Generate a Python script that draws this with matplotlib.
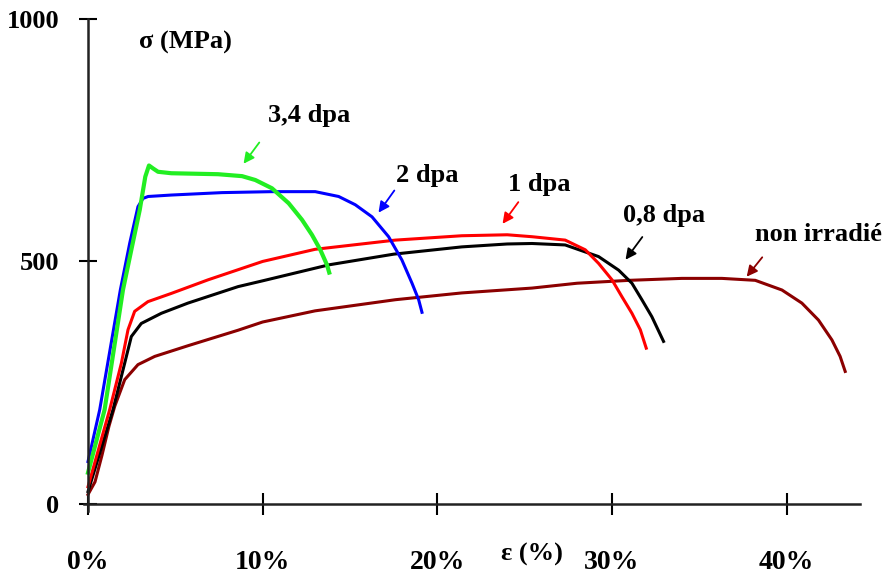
import matplotlib
matplotlib.use("Agg")
import matplotlib.pyplot as plt

# strain (%) / stress (MPa)
eps_34 = [0.0, 0.95, 2.0, 2.48, 2.96, 3.28, 3.49, 3.72, 4.01, 4.77, 7.44, 8.82, 9.58, 10.53, 11.49, 12.25, 12.82, 13.3, 13.68, 13.81]
sig_34 = [64, 194, 441, 524, 606, 675, 698, 692, 685, 682, 680, 676, 668, 651, 620, 586, 555, 524, 493, 477]

eps_2 = [0.0, 0.67, 1.85, 2.39, 2.86, 3.15, 3.44, 4.77, 7.67, 10.53, 13.01, 14.35, 15.3, 16.26, 17.21, 17.97, 18.55, 18.93, 19.12]
sig_2 = [87, 194, 441, 538, 613, 630, 634, 637, 642, 644, 644, 634, 617, 592, 551, 503, 455, 421, 395]

eps_1 = [0.0, 1.24, 1.91, 2.29, 2.67, 3.43, 4.77, 6.87, 10.0, 13.0, 17.6, 21.4, 24.0, 25.42, 27.32, 28.47, 29.23, 30.0, 30.57, 31.14, 31.62, 31.96]
sig_1 = [35, 194, 290, 359, 397, 417, 434, 462, 500, 525, 544, 553, 555, 551, 544, 524, 496, 462, 427, 393, 359, 321]

eps_08 = [0.0, 1.43, 2.1, 2.48, 3.05, 4.2, 5.72, 8.59, 10.0, 13.8, 17.5, 21.4, 24.0, 25.42, 27.32, 29.23, 30.38, 31.14, 31.71, 32.28, 32.95]
sig_08 = [25, 194, 290, 345, 372, 393, 414, 448, 460, 493, 515, 530, 536, 537, 534, 510, 482, 455, 421, 386, 335]

eps_0 = [0.0, 0.4, 0.8, 1.2, 1.53, 2.1, 2.86, 3.82, 5.72, 8.59, 10.0, 13.0, 17.6, 21.4, 25.42, 28.0, 31.0, 34.0, 36.29, 38.2, 39.73, 40.87, 41.82, 42.59, 43.06, 43.35]
sig_0 = [19, 45, 100, 160, 201, 256, 287, 304, 326, 358, 375, 398, 421, 435, 445, 455, 461, 465, 465, 461, 441, 414, 379, 338, 304, 273]

x_ticks = [0, 10, 20, 30, 40]
x_labels = ["0%", "10%", "20%", "30%", "40%"]
y_ticks = [0, 500, 1000]

plt.rcParams["font.family"] = ["Liberation Serif", "DejaVu Serif"]
plt.rcParams["font.weight"] = "bold"

fig = plt.figure(figsize=(8.87, 5.80), dpi=100)
ax = fig.add_axes([0.0943, 0.119, 0.8753, 0.848])

ax.plot(eps_0, sig_0, color="#8b0000", lw=2.2, solid_joinstyle="round")
ax.plot(eps_08, sig_08, color="black", lw=2.2, solid_joinstyle="round")
ax.plot(eps_1, sig_1, color="#ff0000", lw=2.2, solid_joinstyle="round")
ax.plot(eps_2, sig_2, color="#0000ff", lw=2.2, solid_joinstyle="round")
ax.plot(eps_34, sig_34, color="#22ee22", lw=3.0, solid_joinstyle="round")

ax.set_xlim(-0.25, 44.2)
ax.set_ylim(-15, 1000)

for s in ["top", "right"]:
    ax.spines[s].set_visible(False)
for s in ["left", "bottom"]:
    ax.spines[s].set_position(("data", 0))
    ax.spines[s].set_linewidth(1.8)
    ax.spines[s].set_color("#222222")

ax.set_xticks(x_ticks)
ax.set_xticklabels(x_labels)
ax.set_yticks(y_ticks)
ax.tick_params(axis="x", direction="inout", length=16, width=1.5, pad=25, labelsize=20)
ax.tick_params(axis="y", direction="inout", length=13, width=1.5, pad=14, labelsize=19)

ax.text(5.6, 952, "σ (MPa)", fontsize=19, ha="center", va="center", fontweight="bold")
ax.text(25.4, -105, "ε (%)", fontsize=19, ha="center", va="center", fontweight="bold")

labels = [
    ("3,4 dpa", (12.65, 802), (9.9, 750), (8.81, 697), "#22ee22"),
    ("2 dpa", (19.4, 678), (17.63, 651), (16.54, 596), "#0000ff"),
    ("1 dpa", (25.82, 658), (24.73, 627), (23.64, 573), "#ff0000"),
    ("0,8 dpa", (32.97, 594), (31.83, 555), (30.68, 499), "black"),
    ("non irradié", (41.79, 555), (38.7, 513), (37.61, 464), "#8b0000"),
]
for txt, pos, tail, tip, col in labels:
    ax.text(pos[0], pos[1], txt, fontsize=19, ha="center", va="center", fontweight="bold")
    ax.annotate("", xy=tip, xytext=tail,
                arrowprops=dict(arrowstyle="-|>", color=col, lw=1.3, mutation_scale=16))

fig.savefig("out.png", dpi=100)
